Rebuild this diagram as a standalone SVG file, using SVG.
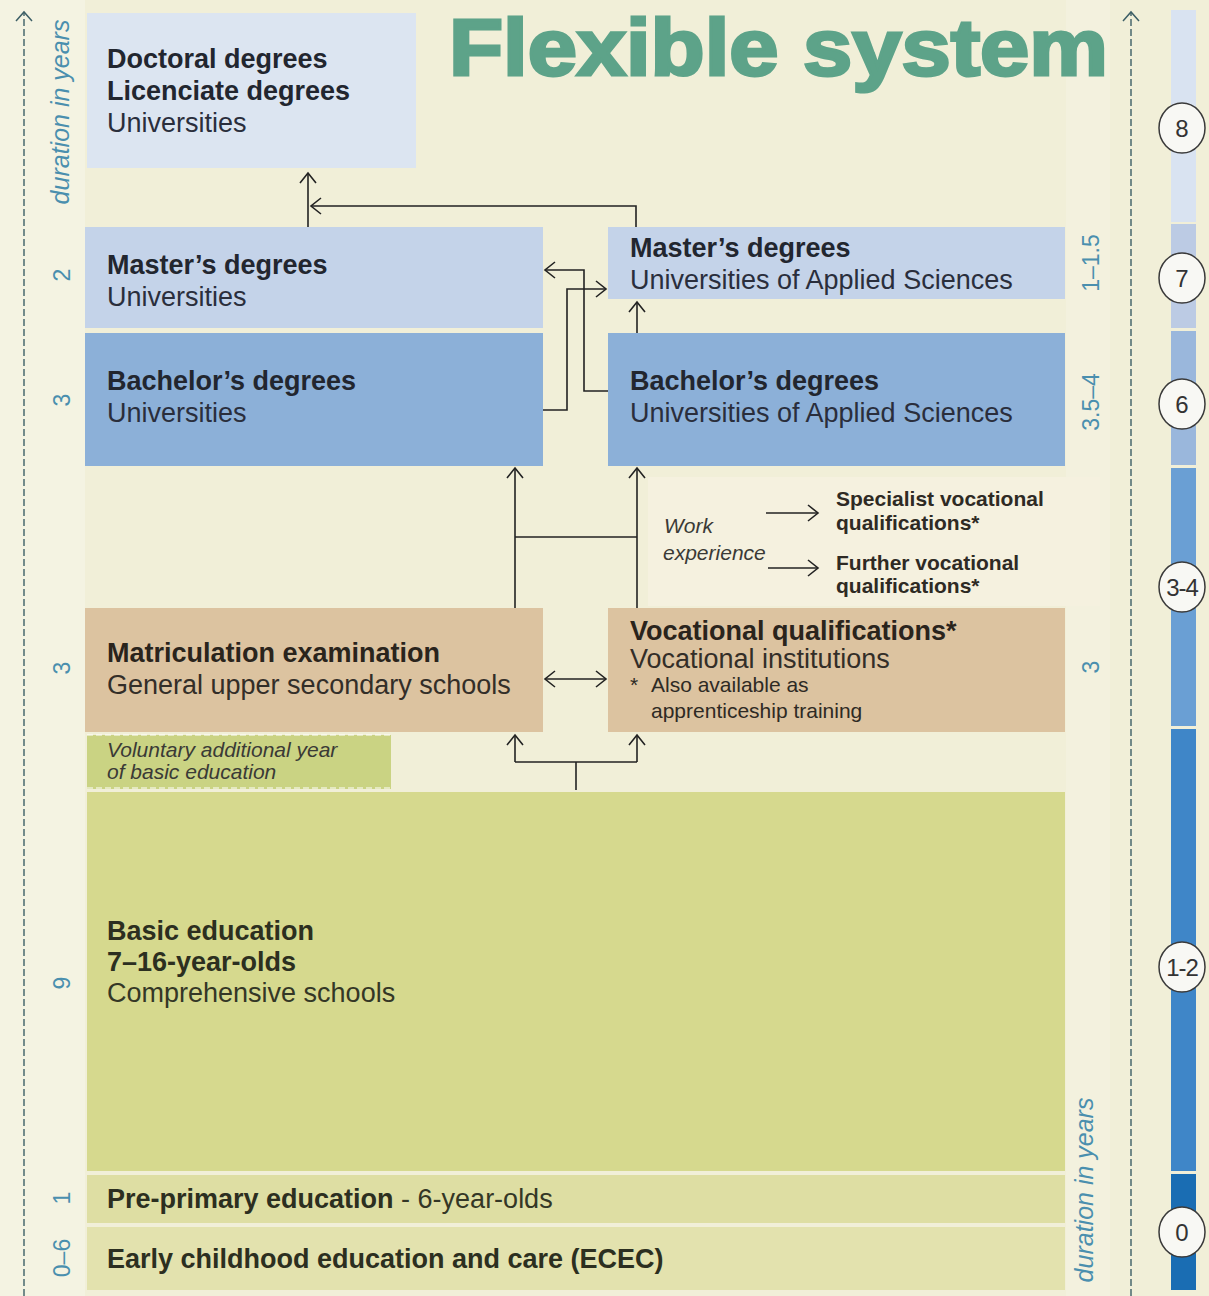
<svg xmlns="http://www.w3.org/2000/svg" width="1209" height="1296" viewBox="0 0 1209 1296">
  <defs>
    <marker id="chev" viewBox="-12 -10 14 20" refX="0" refY="0" markerWidth="14" markerHeight="20" markerUnits="userSpaceOnUse" orient="auto-start-reverse">
      <path d="M-10,-8 L0,0 L-10,8" fill="none" stroke="#222" stroke-width="1.6"/>
    </marker>
    <marker id="axisArrow" viewBox="-12 -10 14 20" refX="0" refY="0" markerWidth="14" markerHeight="20" markerUnits="userSpaceOnUse" orient="auto">
      <path d="M-9,-8 L0,0 L-9,8" fill="none" stroke="#3d5f66" stroke-width="1.5"/>
    </marker>
    <style>
      text { font-family: "Liberation Sans", Arial, sans-serif; }
      .h { font-size: 27px; font-weight: bold; fill: #22262f; }
      .r { font-size: 27px; fill: #2a2e3c; }
      .hb { font-size: 27px; font-weight: bold; fill: #2a241c; }
      .rb { font-size: 27px; fill: #332e28; }
      .hg { font-size: 27px; font-weight: bold; fill: #2c2f20; }
      .rg { font-size: 27px; fill: #343726; }
      .sm { font-size: 21px; fill: #2e2a24; }
      .smb { font-size: 21px; font-weight: bold; fill: #2e2a24; }
      .it { font-size: 21px; font-style: italic; fill: #3a3a36; }
      .dur { font-size: 23px; fill: #4a8fae; text-anchor: middle; }
      .durl { font-size: 25px; font-style: italic; fill: #4a8fae; text-anchor: middle; }
      .lvl { font-size: 24px; fill: #333; text-anchor: middle; }
      .axis { stroke: #3d5f66; stroke-width: 1.4; stroke-dasharray: 7 3; fill: none; }
      .conn { stroke: #222; stroke-width: 1.6; fill: none; }
      .badge { fill: #f8f8f4; stroke: #3a3a3a; stroke-width: 1.5; }
    </style>
  </defs>

  <!-- background -->
  <rect x="0" y="0" width="1209" height="1296" fill="#f1efd8"/>
  <rect x="0" y="0" width="85" height="1296" fill="#f4f3e2"/>
  <rect x="1066" y="0" width="44" height="1296" fill="#f3f1de"/>

  <!-- duration axes -->
  <line class="axis" x1="24" y1="1296" x2="24" y2="12" marker-end="url(#axisArrow)"/>
  <line class="axis" x1="1131" y1="1296" x2="1131" y2="12" marker-end="url(#axisArrow)"/>
  <text class="durl" transform="translate(69,112) rotate(-90)">duration in years</text>
  <text class="durl" transform="translate(1093,1190) rotate(-90)">duration in years</text>

  <!-- title -->
  <text x="449" y="75" font-size="80" font-weight="bold" fill="#5da389" stroke="#5da389" stroke-width="3" textLength="659" lengthAdjust="spacingAndGlyphs">Flexible system</text>

  <!-- years per stage -->
  <text class="dur" transform="translate(70,275) rotate(-90)">2</text>
  <text class="dur" transform="translate(70,400) rotate(-90)">3</text>
  <text class="dur" transform="translate(70,668) rotate(-90)">3</text>
  <text class="dur" transform="translate(70,983) rotate(-90)">9</text>
  <text class="dur" transform="translate(70,1198) rotate(-90)">1</text>
  <text class="dur" transform="translate(70,1258) rotate(-90)">0–6</text>
  <text class="dur" transform="translate(1099,263) rotate(-90)">1–1.5</text>
  <text class="dur" transform="translate(1099,402) rotate(-90)">3.5–4</text>
  <text class="dur" transform="translate(1099,667) rotate(-90)">3</text>

  <!-- level bar -->
  <g id="level-bar">
    <rect x="1171" y="10" width="25" height="212" fill="#d9e3f1"/>
    <rect x="1171" y="224" width="25" height="104" fill="#bccbe4"/>
    <rect x="1171" y="331" width="25" height="134" fill="#9ab7dc"/>
    <rect x="1171" y="468" width="25" height="258" fill="#6a9fd4"/>
    <rect x="1171" y="729" width="25" height="442" fill="#3f86c8"/>
    <rect x="1171" y="1174" width="25" height="116" fill="#1a6db3"/>
    <ellipse class="badge" cx="1182" cy="128" rx="23" ry="25"/>
    <text class="lvl" x="1182" y="137">8</text>
    <ellipse class="badge" cx="1182" cy="278" rx="23" ry="25"/>
    <text class="lvl" x="1182" y="287">7</text>
    <ellipse class="badge" cx="1182" cy="404" rx="23" ry="25"/>
    <text class="lvl" x="1182" y="413">6</text>
    <ellipse class="badge" cx="1182" cy="587" rx="23" ry="25"/>
    <text class="lvl" x="1182" y="596" font-size="22" letter-spacing="-1">3-4</text>
    <ellipse class="badge" cx="1182" cy="967" rx="23" ry="25"/>
    <text class="lvl" x="1182" y="976" font-size="22" letter-spacing="-1">1-2</text>
    <ellipse class="badge" cx="1182" cy="1232" rx="23" ry="25"/>
    <text class="lvl" x="1182" y="1241">0</text>
  </g>

  <!-- nodes -->
  <g id="doctoral">
    <rect x="87" y="13" width="329" height="155" fill="#dce5f1"/>
    <text class="h" x="107" y="68">Doctoral degrees</text>
    <text class="h" x="107" y="100">Licenciate degrees</text>
    <text class="r" x="107" y="132">Universities</text>
  </g>

  <g id="masters-univ">
    <rect x="85" y="227" width="458" height="101" fill="#c4d3e9"/>
    <text class="h" x="107" y="274">Master’s degrees</text>
    <text class="r" x="107" y="306">Universities</text>
  </g>

  <g id="bachelors-univ">
    <rect x="85" y="333" width="458" height="133" fill="#8cb0d8"/>
    <text class="h" x="107" y="390">Bachelor’s degrees</text>
    <text class="r" x="107" y="422">Universities</text>
  </g>

  <g id="masters-uas">
    <rect x="608" y="227" width="457" height="72" fill="#c4d3e9"/>
    <text class="h" x="630" y="257">Master’s degrees</text>
    <text class="r" x="630" y="289">Universities of Applied Sciences</text>
  </g>

  <g id="bachelors-uas">
    <rect x="608" y="333" width="457" height="133" fill="#8cb0d8"/>
    <text class="h" x="630" y="390">Bachelor’s degrees</text>
    <text class="r" x="630" y="422">Universities of Applied Sciences</text>
  </g>

  <g id="work-experience">
    <rect x="648" y="477" width="452" height="129" fill="#f5f1df"/>
    <text class="it" x="664" y="533">Work</text>
    <text class="it" x="663" y="560">experience</text>
  </g>

  <g id="specialist-vocational">
    <text class="smb" x="836" y="506">Specialist vocational</text>
    <text class="smb" x="836" y="530">qualifications*</text>
  </g>

  <g id="further-vocational">
    <text class="smb" x="836" y="570">Further vocational</text>
    <text class="smb" x="836" y="593">qualifications*</text>
  </g>

  <g id="matriculation">
    <rect x="85" y="608" width="458" height="124" fill="#dcc3a0"/>
    <text class="hb" x="107" y="662">Matriculation examination</text>
    <text class="rb" x="107" y="694">General upper secondary schools</text>
  </g>

  <g id="vocational">
    <rect x="608" y="608" width="457" height="124" fill="#dcc3a0"/>
    <text class="hb" x="630" y="640" font-size="26">Vocational qualifications*</text>
    <text class="rb" x="630" y="668" font-size="26">Vocational institutions</text>
    <text class="sm" x="630" y="692">*</text>
    <text class="sm" x="651" y="692">Also available as</text>
    <text class="sm" x="651" y="718">apprenticeship training</text>
  </g>

  <g id="voluntary-year">
    <rect x="87" y="735" width="304" height="54" fill="#cad383"/>
    <line x1="87" y1="735" x2="391" y2="735" stroke="#ffffff" stroke-width="1.2" stroke-dasharray="6 3"/>
    <line x1="87" y1="788" x2="391" y2="788" stroke="#ffffff" stroke-width="1.2" stroke-dasharray="6 3"/>
    <text class="it" x="107" y="757" fill="#3b3d28">Voluntary additional year</text>
    <text class="it" x="107" y="779" fill="#3b3d28">of basic education</text>
  </g>

  <g id="basic-education">
    <rect x="87" y="792" width="978" height="379" fill="#d6d98e"/>
    <text class="hg" x="107" y="940">Basic education</text>
    <text class="hg" x="107" y="971">7–16-year-olds</text>
    <text class="rg" x="107" y="1002">Comprehensive schools</text>
  </g>

  <g id="pre-primary">
    <rect x="87" y="1175" width="978" height="48" fill="#dedea3"/>
    <text class="hg" x="107" y="1208">Pre-primary education<tspan class="rg" font-weight="normal" font-size="25"> - 6-year-olds</tspan></text>
  </g>

  <g id="ecec">
    <rect x="87" y="1227" width="978" height="63" fill="#e3e2ae"/>
    <text class="hg" x="107" y="1268">Early childhood education and care (ECEC)</text>
  </g>

  <!-- connectors -->
  <g id="connectors">
    <path class="conn" d="M308,227 L308,173" marker-end="url(#chev)"/>
    <path class="conn" d="M636,227 L636,206 L311,206" marker-end="url(#chev)"/>
    <path class="conn" d="M608,391 L584,391 L584,270 L545,270" marker-end="url(#chev)"/>
    <path class="conn" d="M543,410 L567,410 L567,289 L606,289" marker-end="url(#chev)"/>
    <path class="conn" d="M637,333 L637,302" marker-end="url(#chev)"/>
    <path class="conn" d="M515,608 L515,468" marker-end="url(#chev)"/>
    <path class="conn" d="M637,608 L637,468" marker-end="url(#chev)"/>
    <path class="conn" d="M515,537 L637,537"/>
    <path class="conn" d="M766,513 L818,513" marker-end="url(#chev)"/>
    <path class="conn" d="M768,568 L818,568" marker-end="url(#chev)"/>
    <path class="conn" d="M545,679 L606,679" marker-start="url(#chev)" marker-end="url(#chev)"/>
    <path class="conn" d="M576,790 L576,762"/>
    <path class="conn" d="M515,762 L515,735" marker-end="url(#chev)"/>
    <path class="conn" d="M637,762 L637,735" marker-end="url(#chev)"/>
    <path class="conn" d="M515,762 L637,762"/>
  </g>
</svg>
